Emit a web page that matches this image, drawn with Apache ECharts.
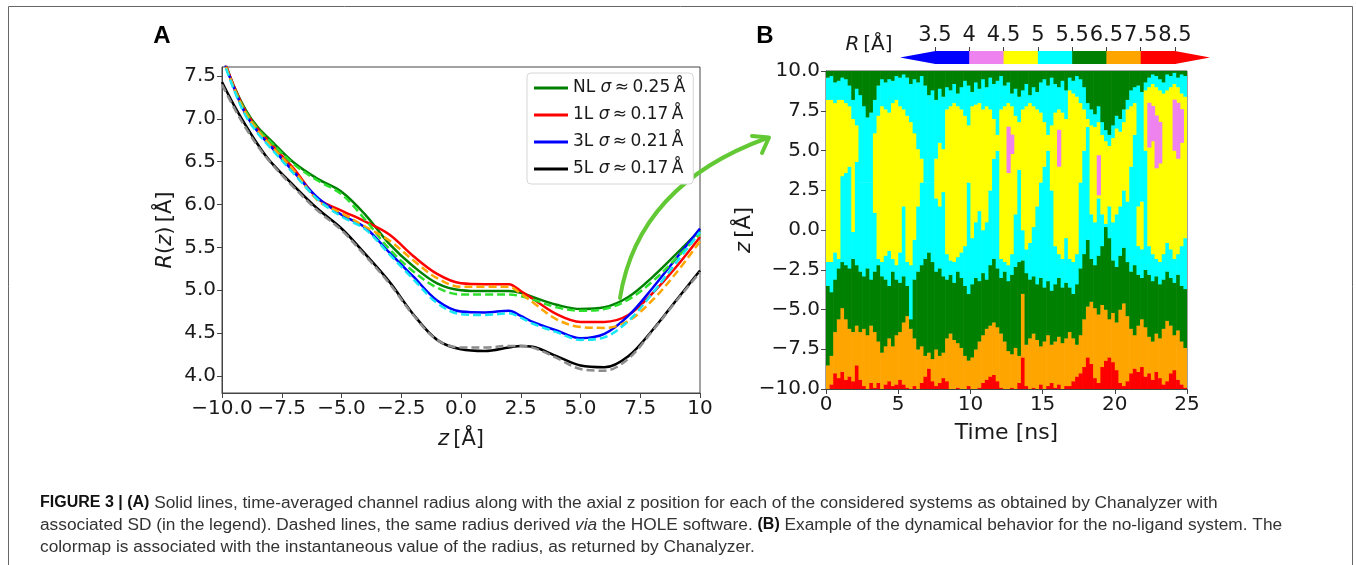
<!DOCTYPE html>
<html><head><meta charset="utf-8">
<script src="https://cdn.jsdelivr.net/npm/echarts@6/dist/echarts.min.js"></script>
<style>html,body{margin:0;padding:0;background:#fff}#c{width:1356px;height:565px}</style>
</head><body><div id="c"></div>
<script>
// ---------- Panel A data ----------
const zGrid   = [-10,-9.5,-9,-8.5,-8,-7,-6,-5,-4,-3,-2,-1,0,1,2,2.5,3,4,5,6,7,8,9,10];
const rNL     = [7.75,7.38,7.10,6.90,6.76,6.49,6.30,6.15,5.88,5.54,5.28,5.08,5.00,4.99,4.99,4.97,4.92,4.83,4.78,4.80,4.92,5.15,5.42,5.70];
const rNLhole = [7.73,7.36,7.08,6.88,6.74,6.47,6.28,6.12,5.82,5.48,5.22,5.03,4.95,4.95,4.95,4.93,4.89,4.80,4.76,4.78,4.89,5.10,5.37,5.66];
const r1L     = [7.76,7.38,7.08,6.88,6.72,6.42,6.07,5.93,5.80,5.65,5.40,5.19,5.08,5.07,5.07,4.99,4.90,4.72,4.63,4.63,4.71,4.96,5.27,5.62];
const r1Lhole = [7.74,7.36,7.06,6.86,6.70,6.40,6.05,5.90,5.74,5.58,5.35,5.14,5.04,5.04,5.04,4.96,4.86,4.66,4.57,4.56,4.64,4.88,5.20,5.57];
const r3L     = [7.74,7.36,7.05,6.85,6.69,6.38,6.08,5.88,5.73,5.44,5.16,4.88,4.75,4.74,4.76,4.70,4.63,4.53,4.44,4.49,4.70,5.02,5.37,5.72];
const r3Lhole = [7.72,7.34,7.03,6.83,6.67,6.36,6.06,5.86,5.71,5.42,5.13,4.85,4.72,4.71,4.73,4.68,4.61,4.51,4.42,4.45,4.64,4.96,5.32,5.68];
const r5L     = [7.43,7.16,6.92,6.70,6.51,6.22,5.95,5.72,5.42,5.10,4.72,4.42,4.31,4.29,4.33,4.35,4.34,4.23,4.12,4.10,4.23,4.53,4.88,5.23];
const r5Lhole = [7.40,7.13,6.89,6.68,6.50,6.20,5.93,5.70,5.40,5.08,4.71,4.42,4.33,4.33,4.35,4.35,4.33,4.21,4.08,4.06,4.20,4.52,4.87,5.21];
const systems = ['NL','1L','3L','5L'];
const sdLabels = ['0.25','0.17','0.21','0.17'];
const yTicksA = [4,4.5,5,5.5,6,6.5,7,7.5];

// ---------- Panel B data (band boundaries per 0.25 ns column, z in Å) ----------
const colWidthNs = 0.25;
const redTop = [-10,-9.7,-9.0,-9.3,-8.9,-9.4,-9.2,-9.5,-8.5,-9.4,-9.8,-10,-9.6,-9.9,-9.6,-10,-9.7,-9.5,-9.8,-9.7,-9.4,-9.7,-9.9,-10,-9.8,-10,-9.6,-9.2,-8.7,-9.5,-9.8,-9.6,-9.3,
  -9.5,-10,-10,-9.9,-10,-10,-9.8,-10,-10,-9.9,-9.6,-9.4,-9.2,-9.1,-9.5,-9.9,-10,-10,-9.9,-10,-9.6,-8.0,-9.8,-10,-9.9,-10,-9.7,-10,-9.8,-9.6,-9.9,-9.7,-10,-9.8,
  -9.8,-9.5,-9.2,-9.0,-8.6,-8.0,-8.4,-9.3,-9.6,-8.6,-8.2,-8.0,-8.3,-8.8,-9.6,-9.8,-9.5,-9.0,-8.7,-8.9,-8.6,-9.2,-9.0,-9.4,-8.9,-9.3,-9.7,-9.5,-9.0,-8.8,-9.4,-9.7,-9.9];
const orangeTop = [-8.5,-7.9,-6.4,-5.6,-4.9,-5.6,-6.2,-6.4,-6.0,-6.4,-6.2,-6.6,-6.0,-6.4,-7.0,-7.7,-7.3,-6.8,-7.3,-6.6,-6.4,-5.8,-5.4,-6.2,-6.8,-7.5,-7.3,-7.9,-7.7,-8.1,-7.5,-7.9,-7.7,
  -6.8,-6.5,-6.9,-7.1,-7.4,-7.9,-8.2,-8.0,-7.5,-7.0,-6.6,-6.2,-6.0,-5.8,-6.1,-6.5,-7.0,-7.6,-7.8,-7.4,-7.9,-4.0,-7.2,-6.8,-6.5,-6.9,-7.3,-7.0,-6.6,-7.2,-7.0,-6.7,-7.1,-6.8,
  -6.4,-6.8,-7.2,-6.6,-5.6,-4.8,-4.5,-4.9,-5.3,-4.7,-5.0,-5.6,-5.2,-5.8,-5.0,-4.6,-5.4,-6.2,-6.6,-6.0,-5.6,-6.1,-6.7,-7.0,-6.5,-6.8,-6.2,-5.7,-6.0,-6.6,-6.3,-7.0,-7.4];
const greenTop = [-3.5,-3.9,-3.1,-2.4,-2.0,-2.2,-2.4,-1.8,-2.2,-2.6,-2.9,-2.4,-3.1,-2.6,-2.2,-2.9,-3.1,-3.5,-2.6,-3.1,-3.3,-2.9,-3.5,-5.6,-3.1,-2.6,-2.2,-1.8,-1.4,-2.0,-2.6,-2.4,-2.9,
  -3.1,-2.8,-3.3,-2.6,-3.0,-3.5,-4.0,-3.4,-3.0,-3.2,-2.7,-3.1,-2.2,-1.8,-2.4,-3.0,-2.6,-3.2,-2.8,-2.3,-2.0,-1.9,-2.7,-3.1,-2.9,-3.4,-3.0,-3.6,-3.2,-3.8,-3.4,-3.0,-3.6,-3.3,
  -3.6,-4.0,-3.4,-2.4,-1.5,-0.6,-1.8,-2.2,-1.6,-1.0,0.2,-0.5,-1.9,-2.3,-1.6,-1.1,-2.0,-2.6,-2.2,-2.8,-3.0,-2.5,-2.8,-3.2,-2.9,-3.4,-3.1,-2.6,-3.0,-3.3,-2.8,-3.5,-3.7];
const yellowBottom = [-2.0,-2.0,-1.4,-1.8,3.4,3.6,4.0,-0.1,4.3,3.0,3.0,3.0,3.0,1.1,-1.8,-2.0,-1.6,-1.3,-1.8,-2.2,-1.4,1.5,-2.0,-2.2,-0.6,1.5,3.0,3.0,3.0,3.0,2.0,1.5,2.4,
  -1.5,-1.9,-2.0,-1.7,-1.4,-1.0,3.0,-0.5,0.5,1.2,0.0,0.5,2.5,4.5,5.0,-1.8,-2.0,-2.2,-1.5,1.0,3.8,0.0,-1.2,-0.8,0.2,1.5,3.0,4.0,5.0,2.5,-1.0,-1.5,-1.8,-0.5,
  -1.8,-2.0,-1.5,3.0,5.0,6.5,1.0,0.5,2.0,1.0,0.4,1.5,0.5,1.0,1.5,2.5,1.8,4.0,6.0,-1.0,-1.2,5.0,-1.0,-1.5,-1.8,-2.0,-1.5,-0.8,-1.2,-1.8,-1.5,-1.0,-0.5];
const yellowTop = [8.2,8.2,8.0,8.2,8.2,8.0,7.8,7.0,6.6,3.0,3.0,3.0,3.0,6.1,7.2,7.8,7.6,7.4,8.0,8.2,7.8,7.6,7.2,6.8,6.1,5.1,4.5,3.0,3.0,3.0,4.5,5.5,5.1,
  7.6,7.8,8.0,7.8,7.6,7.2,6.6,7.8,7.9,8.0,7.6,7.8,7.6,7.0,6.0,7.6,7.8,8.0,7.8,7.2,6.8,7.6,7.8,8.0,7.8,7.6,7.4,6.8,6.0,6.6,7.4,7.6,7.4,7.0,
  8.8,8.6,8.4,8.0,7.6,7.0,6.6,6.5,6.8,6.0,5.6,5.3,5.8,6.4,6.2,6.8,7.6,7.8,8.0,1.5,1.8,8.8,9.0,9.2,9.0,8.8,8.6,8.8,9.0,9.2,9.0,8.6,8.4];
const cyanTop = [9.6,9.7,9.3,9.4,9.6,9.5,9.1,8.2,8.9,8.5,7.8,7.1,7.4,8.2,9.1,9.5,9.3,9.5,9.4,9.7,9.6,9.8,9.6,9.2,9.5,9.3,9.7,9.1,8.5,8.8,8.2,8.9,8.4,
  9.0,8.8,9.2,8.6,9.0,9.4,9.1,8.7,9.3,8.9,9.5,9.0,9.6,9.2,9.4,9.7,9.1,9.3,8.6,8.9,8.4,8.8,9.2,8.5,9.0,8.7,9.3,9.5,9.1,9.6,9.2,9.0,9.4,8.8,
  9.6,9.4,9.7,9.5,9.0,8.0,7.6,7.3,7.8,6.8,6.3,6.0,6.6,7.2,7.0,7.6,8.2,8.8,9.0,9.1,8.7,9.3,9.6,9.8,9.7,9.5,9.3,9.8,9.7,9.9,9.6,9.8,9.7];
// violet (4–4.5 Å) patches: [column, zLow, zHigh]
const violetPatches = [[50,3.6,6.5],[51,4.8,6.0],[64,4.0,6.3],[75,2.2,4.7],[89,5.2,8.0],[90,5.6,7.8],[91,3.9,7.2],[92,4.2,6.8],[96,5.0,8.2],[97,4.5,8.0],[98,5.5,7.6]];

// colour bar
const cbTicks  = [3.5,4,4.5,5,5.5,6.5,7.5,8.5];
const cbColors = ['#0000ff','#ee82ee','#ffff00','#00ffff','#008000','#ffa500','#ff0000'];
// band order bottom->top, as index into cbColors
const bandOrder = [6,5,4,3,2,3,4];

// ---------- build ----------
const pairs = arr => zGrid.map((z,i)=>[z,arr[i]]);
const heatRects = [];
for (let i = 0; i < redTop.length; i++) {
  const t0 = i*colWidthNs, t1 = (i+1)*colWidthNs;
  const b = [-10, redTop[i], orangeTop[i], greenTop[i], yellowBottom[i], yellowTop[i], cyanTop[i], 10];
  for (let k = 0; k < 7; k++) {
    const lo = b[k], hi = Math.max(b[k], b[k+1]);
    if (hi > lo) heatRects.push([t0, t1, lo, hi, bandOrder[k]]);
  }
}
violetPatches.forEach(p => heatRects.push([p[0]*colWidthNs, (p[0]+1)*colWidthNs, p[1], p[2], 1]));

const cbItems = [];
for (let i = 0; i < cbColors.length; i++) cbItems.push([i, i+1, i, 0]);
cbItems.push([-1.02, 0, 0, 1]);
cbItems.push([cbColors.length, cbColors.length+1.02, cbColors.length-1, 2]);

const minusFmt = s => s.replace('-', '\u2212');
const FONT = 'DejaVu Sans';
const CAP = 'Liberation Sans';
const TXT = '#1a1a1a';
const AX = '#444';

function lineSeries(name, data, color, dashed) {
  return {
    name, type: 'line', xAxisIndex: 0, yAxisIndex: 0, data: pairs(data),
    smooth: 0.35, symbol: 'none', clip: true, z: dashed ? 3 : 2,
    lineStyle: { color, width: 2.5, type: dashed ? [8,4] : 'solid' },
    itemStyle: { color }, emphasis: { disabled: true }
  };
}

const chart = echarts.init(document.getElementById('c'), null, { renderer: 'canvas' });
chart.setOption({
  animation: false,
  backgroundColor: '#fff',
  grid: [
    { left: 222, top: 67, width: 478, height: 326, show: true, borderColor: AX, borderWidth: 1, backgroundColor: 'transparent', containLabel: false, outerBoundsMode: 'none' },
    { left: 826, top: 71, width: 361, height: 318, show: true, borderColor: AX, borderWidth: 1, backgroundColor: 'transparent', containLabel: false, outerBoundsMode: 'none' },
    { left: 900, top: 51, width: 310, height: 13, show: false, containLabel: false, outerBoundsMode: 'none' }
  ],
  xAxis: [
    { gridIndex: 0, type: 'value', min: -10, max: 10, interval: 2.5,
      axisLine: { show: true, onZero: false, lineStyle: { color: AX } },
      axisTick: { show: true, length: 5, lineStyle: { color: AX } },
      splitLine: { show: false },
      axisLabel: { margin: 6, color: TXT, fontSize: 20, fontFamily: FONT,
        formatter: v => v === 10 ? '10' : minusFmt(v.toFixed(1)) },
      name: '{i|z}\u2009[Å]', nameLocation: 'middle', nameGap: 36,
      nameTextStyle: { fontSize: 21, fontFamily: FONT, color: TXT, rich: { i: { fontStyle: 'italic', fontSize: 21, fontFamily: FONT, color: TXT } } } },
    { gridIndex: 1, type: 'value', min: 0, max: 25, interval: 5,
      axisLine: { show: true, onZero: false, lineStyle: { color: AX } },
      axisTick: { show: true, length: 5, lineStyle: { color: AX } },
      splitLine: { show: false },
      axisLabel: { margin: 6, color: TXT, fontSize: 20, fontFamily: FONT },
      name: 'Time [ns]', nameLocation: 'middle', nameGap: 33,
      nameTextStyle: { fontSize: 22, fontFamily: FONT, color: TXT } },
    { gridIndex: 2, type: 'value', min: -1.02, max: cbColors.length + 1.02, position: 'top',
      axisLine: { show: false, onZero: false },
      axisTick: { show: true, length: 4, customValues: cbTicks.map((_, i) => i), lineStyle: { color: AX } },
      splitLine: { show: false },
      axisLabel: { margin: 5, color: TXT, fontSize: 21, fontFamily: FONT, customValues: cbTicks.map((_, i) => i),
        formatter: v => String(cbTicks[Math.round(v)]) } }
  ],
  yAxis: [
    { gridIndex: 0, type: 'value', min: 3.8, max: 7.605,
      axisLine: { show: true, onZero: false, lineStyle: { color: AX } },
      axisTick: { show: true, length: 5, customValues: yTicksA, lineStyle: { color: AX } },
      splitLine: { show: false },
      axisLabel: { margin: 6, color: TXT, fontSize: 20, fontFamily: FONT, customValues: yTicksA, formatter: v => v.toFixed(1) },
      name: '{i|R}({i|z})\u2009[Å]', nameLocation: 'middle', nameGap: 46, nameRotate: 90,
      nameTextStyle: { fontSize: 21, fontFamily: FONT, color: TXT, rich: { i: { fontStyle: 'italic', fontSize: 21, fontFamily: FONT, color: TXT } } } },
    { gridIndex: 1, type: 'value', min: -10, max: 10, interval: 2.5,
      axisLine: { show: true, onZero: false, lineStyle: { color: AX } },
      axisTick: { show: true, length: 5, lineStyle: { color: AX } },
      splitLine: { show: false },
      axisLabel: { margin: 6, color: TXT, fontSize: 20, fontFamily: FONT, formatter: v => minusFmt(v.toFixed(1)) },
      name: '{i|z}\u2009[Å]', nameLocation: 'middle', nameGap: 45, nameRotate: 90,
      nameTextStyle: { fontSize: 21, fontFamily: FONT, color: TXT, rich: { i: { fontStyle: 'italic', fontSize: 21, fontFamily: FONT, color: TXT } } } },
    { gridIndex: 2, type: 'value', min: 0, max: 1, show: false }
  ],
  legend: {
    data: systems, orient: 'vertical', left: 527, top: 73,
    icon: 'rect', itemWidth: 34, itemHeight: 3, itemGap: 7, padding: [5, 8, 5, 7],
    backgroundColor: '#fff', borderColor: '#d6d6d6', borderWidth: 1, borderRadius: 4,
    formatter: name => name + ' {i|σ}\u2009≈\u2009' + sdLabels[systems.indexOf(name)] + '\u2009Å',
    textStyle: { fontFamily: FONT, fontSize: 17, color: TXT, lineHeight: 20,
      rich: { i: { fontStyle: 'italic', fontFamily: FONT, fontSize: 17, color: TXT } } },
    selectedMode: false
  },
  series: [
    lineSeries('NL', rNL, '#008000', false),
    lineSeries('NL HOLE', rNLhole, '#2ee02e', true),
    lineSeries('1L', r1L, '#ff0000', false),
    lineSeries('1L HOLE', r1Lhole, '#ffa500', true),
    lineSeries('3L', r3L, '#0000ff', false),
    lineSeries('3L HOLE', r3Lhole, '#19e6f5', true),
    lineSeries('5L', r5L, '#000000', false),
    lineSeries('5L HOLE', r5Lhole, '#8c8c8c', true),
    { type: 'custom', xAxisIndex: 1, yAxisIndex: 1, data: heatRects, clip: true,
      encode: { x: [0, 1], y: [2, 3] }, silent: true,
      renderItem: (params, api) => {
        const p0 = api.coord([api.value(0), api.value(3)]);
        const p1 = api.coord([api.value(1), api.value(2)]);
        return { type: 'rect', shape: { x: p0[0], y: p0[1], width: p1[0] - p0[0] + 0.6, height: p1[1] - p0[1] + 0.3 },
          style: { fill: cbColors[api.value(4)] } };
      } },
    { type: 'custom', xAxisIndex: 2, yAxisIndex: 2, data: cbItems, clip: false, silent: true,
      encode: { x: [0, 1] },
      renderItem: (params, api) => {
        const x0 = api.value(0), x1 = api.value(1), kind = api.value(3);
        const a = api.coord([x0, 1]), b = api.coord([x1, 0]);
        const fill = cbColors[api.value(2)];
        if (kind === 0) return { type: 'rect', shape: { x: a[0], y: a[1], width: b[0] - a[0] + 0.5, height: b[1] - a[1] }, style: { fill } };
        const mid = (a[1] + b[1]) / 2;
        const pts = kind === 1 ? [[a[0], mid], [b[0] + 0.5, a[1]], [b[0] + 0.5, b[1]]] : [[a[0], a[1]], [b[0], mid], [a[0], b[1]]];
        return { type: 'polygon', shape: { points: pts }, style: { fill } };
      } }
  ],
  graphic: [
    { type: 'rect', silent: true, shape: { x: 8.5, y: 6.5, width: 1344, height: 600 }, style: { fill: 'none', stroke: '#666', lineWidth: 1 } },
    { type: 'text', silent: true, x: 162, y: 36, style: { text: 'A', fontSize: 24, fontWeight: 'bold', fontFamily: CAP, fill: '#000', align: 'center', verticalAlign: 'middle' } },
    { type: 'text', silent: true, x: 765, y: 36, style: { text: 'B', fontSize: 24, fontWeight: 'bold', fontFamily: CAP, fill: '#000', align: 'center', verticalAlign: 'middle' } },
    { type: 'text', silent: true, x: 869, y: 45, style: { text: '{i|R}\u2009[Å]', fontSize: 20, fontFamily: FONT, fill: TXT, align: 'center', verticalAlign: 'middle',
        rich: { i: { fontStyle: 'italic', fontSize: 20, fontFamily: FONT, fill: TXT } } } },
    { type: 'bezierCurve', silent: true, shape: { x1: 620, y1: 298, x2: 767, y2: 138, cpx1: 638, cpy1: 185 },
      style: { stroke: '#62c934', lineWidth: 4, fill: 'none', lineCap: 'round' } },
    { type: 'polyline', silent: true, shape: { points: [[752, 136], [769, 137.5], [762, 153]] },
      style: { stroke: '#62c934', lineWidth: 4, fill: 'none', lineCap: 'round', lineJoin: 'round' } },
    { type: 'text', silent: true, x: 40, y: 503, style: { text: '{b|FIGURE 3 | (A)} Solid lines, time-averaged channel radius along with the axial z position for each of the considered systems as obtained by Chanalyzer with',
        fontSize: 17.3, fontFamily: CAP, fill: '#333', verticalAlign: 'middle',
        rich: { b: { fontWeight: 'bold', fontSize: 16, fontFamily: CAP, fill: '#111' } } } },
    { type: 'text', silent: true, x: 40, y: 525, style: { text: 'associated SD (in the legend). Dashed lines, the same radius derived {i|via} the HOLE software. {b|(B)} Example of the dynamical behavior for the no-ligand system. The',
        fontSize: 17.3, fontFamily: CAP, fill: '#333', verticalAlign: 'middle',
        rich: { b: { fontWeight: 'bold', fontSize: 16, fontFamily: CAP, fill: '#111' }, i: { fontStyle: 'italic', fontSize: 17.3, fontFamily: CAP, fill: '#333' } } } },
    { type: 'text', silent: true, x: 40, y: 547, style: { text: 'colormap is associated with the instantaneous value of the radius, as returned by Chanalyzer.',
        fontSize: 17.3, fontFamily: CAP, fill: '#333', verticalAlign: 'middle' } }
  ]
});
</script></body></html>
